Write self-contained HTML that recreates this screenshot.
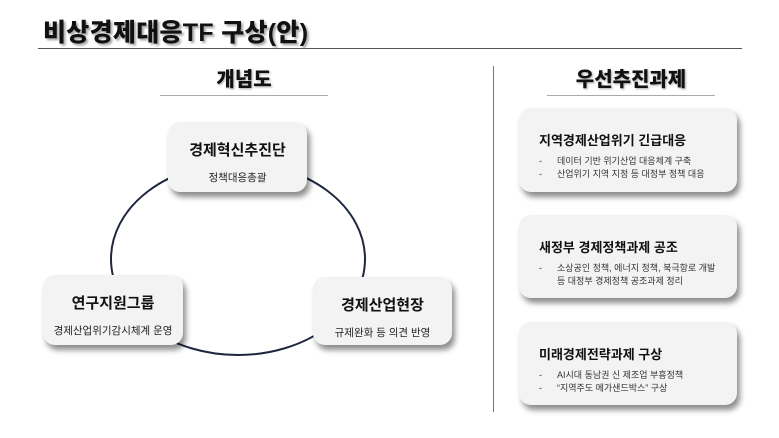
<!DOCTYPE html>
<html><head><meta charset="utf-8"><style>
body{margin:0;width:779px;height:438px;background:#fff;position:relative;overflow:hidden;font-family:"Liberation Sans","Noto Sans CJK KR",sans-serif;color:#111}
.a{position:absolute}
.node{position:absolute;background:#f3f3f3;border-radius:12px;box-shadow:3px 5px 6px rgba(0,0,0,.45);text-align:center}
.node b{display:block;font-size:15px;margin-top:17px}
.node span{display:block;font-size:10.5px;margin-top:10px;color:#222}
.box{position:absolute;left:519px;width:218px;background:#f3f3f3;border-radius:12px;box-shadow:3px 5px 6px rgba(0,0,0,.45)}
.box b{display:block;font-size:13px;font-weight:600;margin:22px 0 0 20px}
.box div{font-size:9px;color:#333;margin-left:20px;line-height:13px;position:relative;padding-left:18px;white-space:nowrap}
.box div i{position:absolute;left:0;font-style:normal}
</style></head><body>
<div class="a" style="left:43px;top:13px;font-size:25px;font-weight:900;letter-spacing:0.3px;text-shadow:2px 2px 2px rgba(0,0,0,.35)">비상경제대응TF 구상(안)</div>
<div class="a" style="left:38px;top:48px;width:704px;height:1px;background:#555"></div>
<div class="a" style="left:493px;top:66px;width:1px;height:346px;background:#777"></div>
<div class="a" style="left:160px;top:63px;width:168px;text-align:center;font-size:20px;font-weight:900;text-shadow:1px 1px 2px rgba(0,0,0,.35)">개념도</div>
<div class="a" style="left:160px;top:95px;width:168px;height:1px;background:#aaa"></div>
<div class="a" style="left:547px;top:63px;width:168px;text-align:center;font-size:20px;font-weight:900;text-shadow:1px 1px 2px rgba(0,0,0,.35)">우선추진과제</div>
<div class="a" style="left:547px;top:95px;width:168px;height:1px;background:#aaa"></div>
<svg class="a" style="left:0;top:0" width="779" height="438"><ellipse cx="238" cy="259" rx="127" ry="96" fill="none" stroke="#1f2740" stroke-width="2"/></svg>
<div class="node" style="left:168px;top:122px;width:139px;height:70px"><b>경제혁신추진단</b><span>정책대응총괄</span></div>
<div class="node" style="left:43px;top:275px;width:140px;height:70px"><b>연구지원그룹</b><span>경제산업위기감시체계 운영</span></div>
<div class="node" style="left:313px;top:277px;width:139px;height:68px"><b>경제산업현장</b><span>규제완화 등 의견 반영</span></div>
<div class="box" style="top:108px;height:84px"><b>지역경제산업위기 긴급대응</b><div style="margin-top:6px"><i>-</i>데이터 기반 위기산업 대응체계 구축</div><div><i>-</i>산업위기 지역 지정 등 대정부 정책 대응</div></div>
<div class="box" style="top:215px;height:83px"><b>새정부 경제정책과제 공조</b><div style="margin-top:6px"><i>-</i>소상공인 정책, 에너지 정책, 북극항로 개발<br>등 대정부 경제정책 공조과제 정리</div></div>
<div class="box" style="top:322px;height:83px"><b>미래경제전략과제 구상</b><div style="margin-top:6px"><i>-</i>AI시대 동남권 신 제조업 부흥정책</div><div><i>-</i>“지역주도 메가샌드박스” 구상</div></div>
</body></html>
